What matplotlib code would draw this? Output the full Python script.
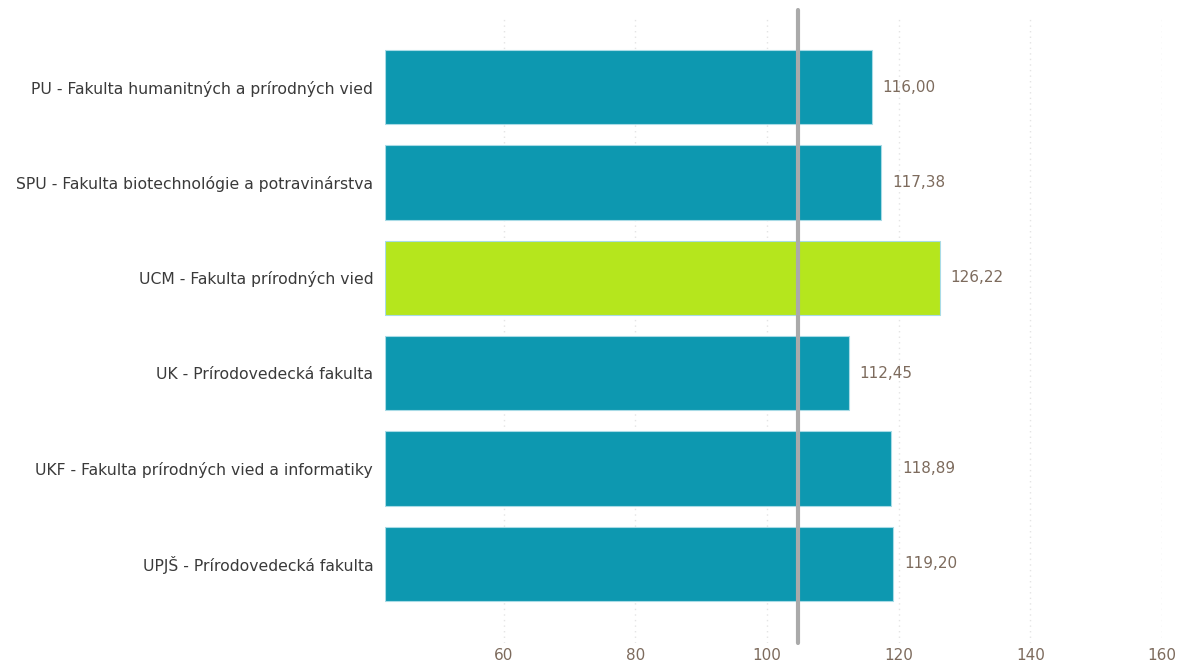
import matplotlib
matplotlib.use("Agg")
import matplotlib.pyplot as plt

# data
faculties = [
    "PU - Fakulta humanitných a prírodných vied",
    "SPU - Fakulta biotechnológie a potravinárstva",
    "UCM - Fakulta prírodných vied",
    "UK - Prírodovedecká fakulta",
    "UKF - Fakulta prírodných vied a informatiky",
    "UPJŠ - Prírodovedecká fakulta",
]
values = [116.00, 117.38, 126.22, 112.45, 118.89, 119.20]
highlight = "UCM - Fakulta prírodných vied"
average = 104.73
xticks = [60, 80, 100, 120, 140, 160]

teal = "#0d98b0"
green = "#b5e61d"
brown = "#7d6b5d"

plt.rcParams['font.family'] = ['DejaVu Sans']

fig = plt.figure(figsize=(11.84, 6.66), dpi=100)
ax = fig.add_axes([385/1184, 1 - 643/666, (1162 - 385)/1184, (643 - 16)/666])

ypos = list(range(len(faculties)))
colors = [green if f == highlight else teal for f in faculties]
ax.barh(ypos, [v - 42 for v in values], left=42, height=0.78,
        color=colors, edgecolor="#a8dbe6", linewidth=0.8, zorder=2)

for y, v in zip(ypos, values):
    ax.text(v + 1.6, y, f"{v:.2f}".replace(".", ","), va="center", ha="left",
            fontsize=11, color=brown)

ax.axvline(average, ymin=0, ymax=1.01, color="#aaaaaa", linewidth=3,
           solid_capstyle="round", clip_on=False, zorder=3)

ax.set_xlim(42, 160)
ax.set_ylim(5 + 0.83, -0.745)
ax.set_xticks(xticks)
ax.set_yticks(ypos)
ax.set_yticklabels(faculties)
ax.tick_params(axis="x", length=0, pad=3.5, labelsize=11, labelcolor=brown)
ax.tick_params(axis="y", length=0, pad=8.5, labelsize=11.25, labelcolor="#3a3a3a")
ax.grid(axis="x", linestyle=(0, (1, 3)), color="#e4e4e4", linewidth=1, zorder=0)
for s in ax.spines.values():
    s.set_visible(False)

fig.savefig("out.png", dpi=100)
